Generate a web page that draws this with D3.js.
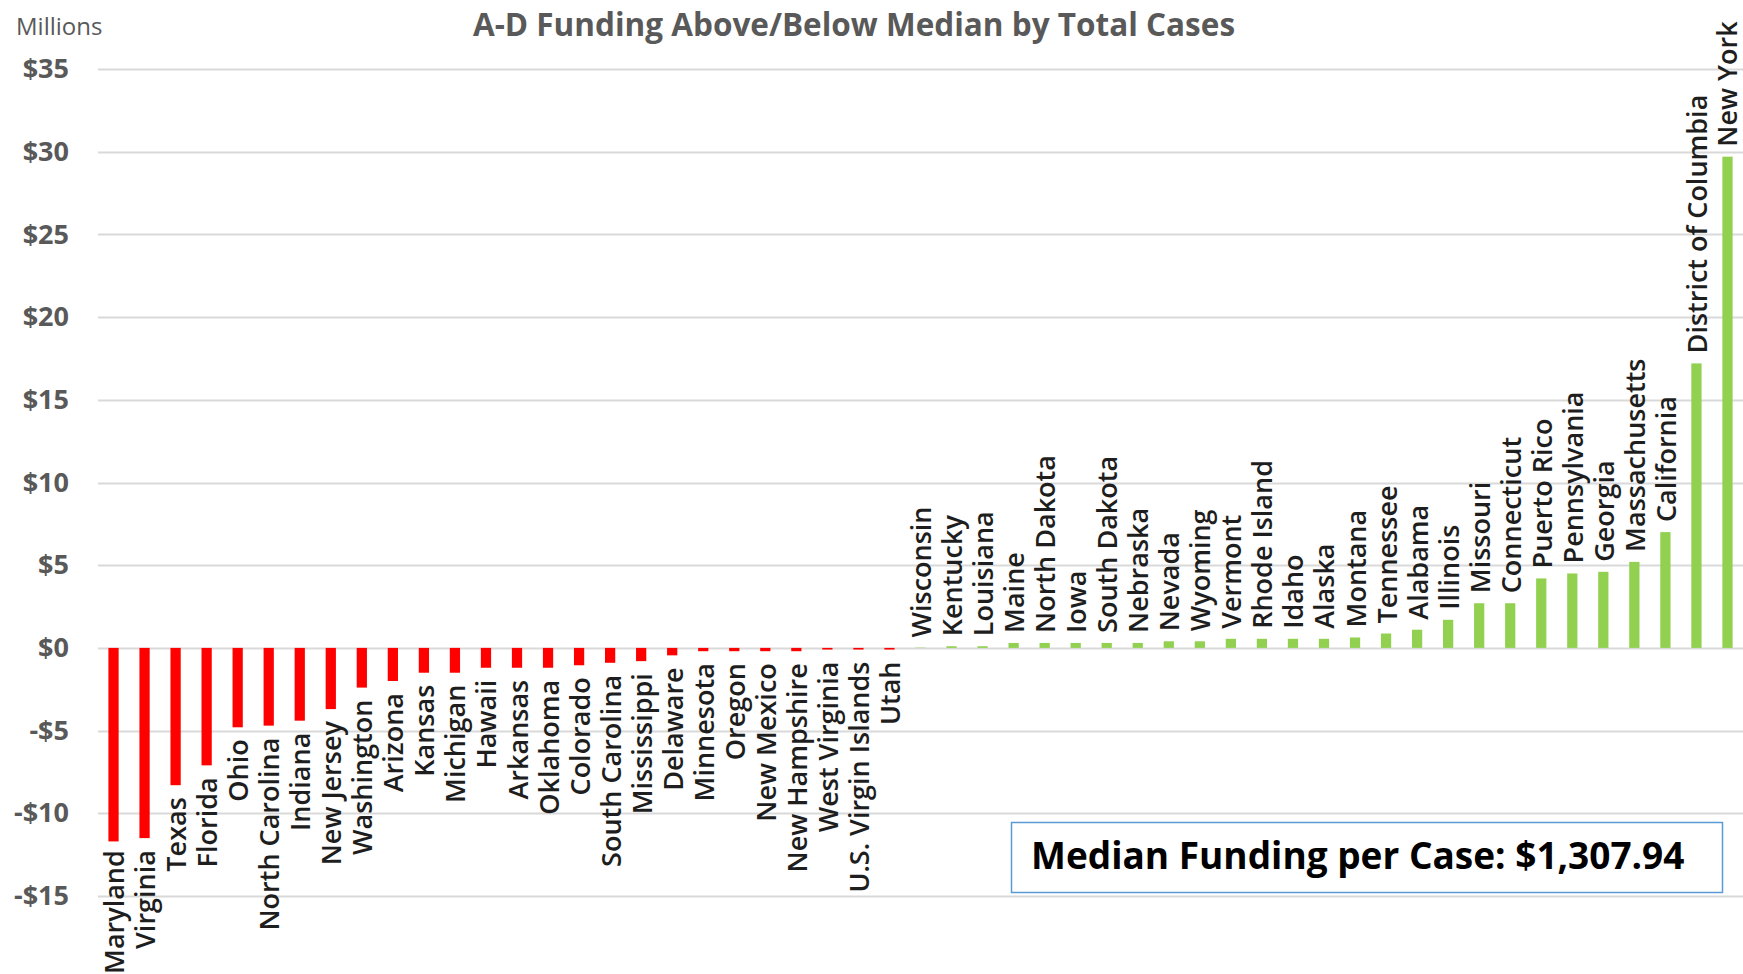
<!DOCTYPE html>
<html>
<head>
<meta charset="utf-8">
<script src="https://cdn.jsdelivr.net/npm/d3@7"></script>
<style>
  body { margin: 0; background: #fff; }
  svg { display: block; font-family: "Open Sans", sans-serif; }
</style>
</head>
<body>
<div id="chart"></div>
<script>
// A-D funding above / below median, millions of dollars
const states = [
    "Maryland", "Virginia", "Texas", "Florida", "Ohio", "North Carolina", "Indiana", "New Jersey",
    "Washington", "Arizona", "Kansas", "Michigan", "Hawaii", "Arkansas", "Oklahoma", "Colorado",
    "South Carolina", "Mississippi", "Delaware", "Minnesota", "Oregon", "New Mexico", "New Hampshire",
    "West Virginia", "U.S. Virgin Islands", "Utah",
    "Wisconsin", "Kentucky", "Louisiana", "Maine", "North Dakota", "Iowa", "South Dakota", "Nebraska",
    "Nevada", "Wyoming", "Vermont", "Rhode Island", "Idaho", "Alaska", "Montana", "Tennessee",
    "Alabama", "Illinois", "Missouri", "Connecticut", "Puerto Rico", "Pennsylvania", "Georgia",
    "Massachusetts", "California", "District of Columbia", "New York"
];
const values = [
    -11.7, -11.5, -8.3, -7.1, -4.8, -4.7, -4.4, -3.7,
    -2.4, -2.0, -1.5, -1.5, -1.2, -1.2, -1.2, -1.05,
    -0.9, -0.8, -0.45, -0.2, -0.2, -0.2, -0.2,
    -0.1, -0.1, -0.1,
    0.02, 0.1, 0.1, 0.3, 0.3, 0.3, 0.3, 0.3,
    0.4, 0.4, 0.55, 0.55, 0.55, 0.55, 0.63, 0.87,
    1.1, 1.7, 2.7, 2.7, 4.2, 4.5, 4.6,
    5.2, 7.0, 17.2, 29.7
];
const yTicks = [-15, -10, -5, 0, 5, 10, 15, 20, 25, 30, 35];
const title = "A-D Funding Above/Below Median by Total Cases";
const unitLabel = "Millions";
const medianNote = "Median Funding per Case: $1,307.94";

const width = 1743, height = 974;
const margin = { left: 98, right: 0, top: 69, bottom: 78 };

const data = states.map((s, i) => ({ state: s, value: values[i] }));

const svg = d3.select("#chart")
    .append("svg")
    .attr("width", width)
    .attr("height", height);

const x = d3.scaleBand()
    .domain(states)
    .range([margin.left, width - margin.right])
    .paddingInner(0.67)
    .paddingOuter(0.335);

const y = d3.scaleLinear()
    .domain([-15, 35])
    .range([height - margin.bottom, margin.top]);

// gridlines
svg.append("g")
    .selectAll("line")
    .data(yTicks)
    .enter()
    .append("line")
    .attr("x1", margin.left)
    .attr("x2", width)
    .attr("y1", d => Math.round(y(d)) + 0.5)
    .attr("y2", d => Math.round(y(d)) + 0.5)
    .attr("stroke", "#d9d9d9")
    .attr("stroke-width", 2);

// y axis labels
const yAxis = d3.axisLeft(y)
    .tickValues(yTicks)
    .tickSize(0)
    .tickPadding(0)
    .tickFormat(d => (d < 0 ? "-$" : "$") + Math.abs(d));

svg.append("g")
    .attr("transform", "translate(69,0)")
    .call(yAxis)
    .call(g => g.select(".domain").remove())
    .selectAll("text")
    .attr("font-family", "Open Sans, sans-serif")
    .attr("font-size", 27)
    .attr("font-weight", 700)
    .attr("fill", "#595959");

// bars
svg.append("g")
    .selectAll("rect")
    .data(data)
    .enter()
    .append("rect")
    .attr("x", d => x(d.state))
    .attr("width", x.bandwidth())
    .attr("y", d => y(Math.max(0, d.value)))
    .attr("height", d => Math.abs(y(d.value) - y(0)))
    .attr("fill", d => d.value < 0 ? "#ff0000" : "#92d050");

// category labels at the bar ends
svg.append("g")
    .selectAll("text")
    .data(data)
    .enter()
    .append("text")
    .attr("font-size", 27)
    .attr("font-weight", 600)
    .attr("fill", "#1e1e1e")
    .attr("dominant-baseline", "central")
    .text(d => d.state)
    .each(function (d) {
        // keep the last label inside the right edge
        const cx = Math.min(x(d.state) + x.bandwidth() / 2, width - 17);
        const len = this.getComputedTextLength();
        if (d.value < 0) {
            // rotated text reads bottom-to-top, its end sits under the bar
            let top = y(d.value) + 12;
            if (top + len > height) top = height - len;
            d3.select(this)
                .attr("text-anchor", "end")
                .attr("transform", "translate(" + cx + "," + top + ") rotate(-90)");
        } else {
            const bottom = y(d.value) - 10;
            d3.select(this)
                .attr("text-anchor", "start")
                .attr("transform", "translate(" + cx + "," + bottom + ") rotate(-90)");
        }
    });

// title and unit
svg.append("text")
    .attr("x", 854)
    .attr("y", 36)
    .attr("text-anchor", "middle")
    .attr("font-size", 31.5)
    .attr("font-weight", 700)
    .attr("fill", "#595959")
    .text(title);

svg.append("text")
    .attr("x", 16)
    .attr("y", 35)
    .attr("font-size", 24)
    .attr("fill", "#595959")
    .text(unitLabel);

// median note box
const note = svg.append("g");
note.append("rect")
    .attr("x", 1011.5)
    .attr("y", 822.5)
    .attr("width", 711)
    .attr("height", 70)
    .attr("fill", "#fff")
    .attr("stroke", "#5b9bd5")
    .attr("stroke-width", 1.5);
note.append("text")
    .attr("x", 1031)
    .attr("y", 869)
    .attr("font-size", 37)
    .attr("font-weight", 700)
    .attr("fill", "#000")
    .text(medianNote);
</script>
</body>
</html>
